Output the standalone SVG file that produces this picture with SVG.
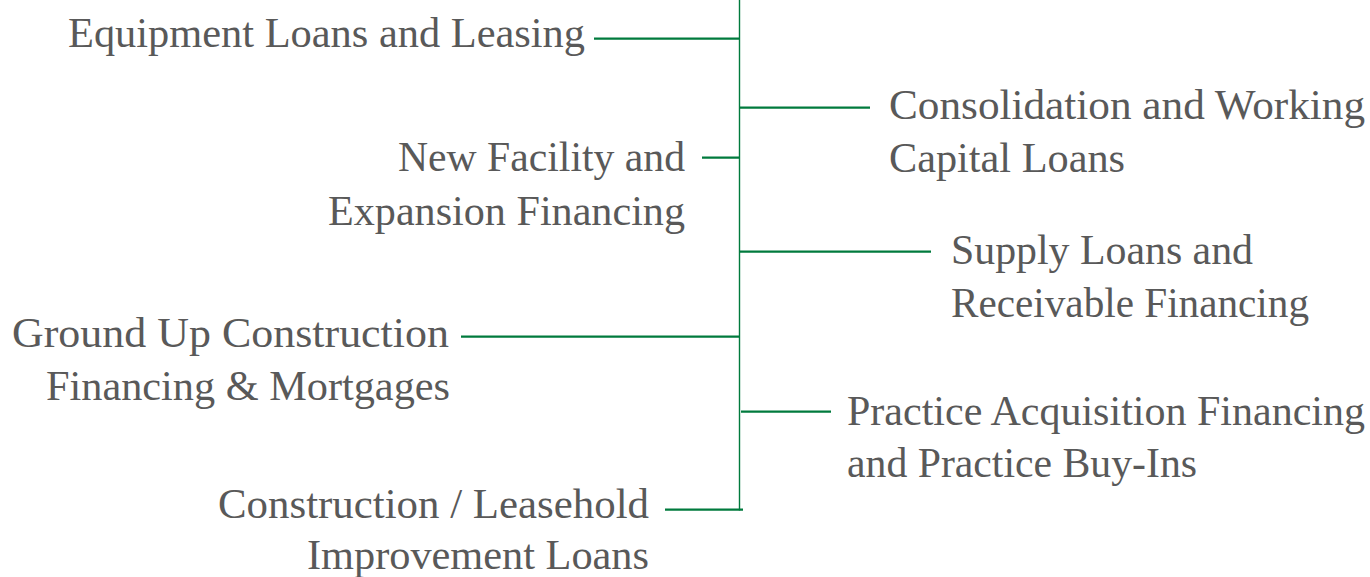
<svg xmlns="http://www.w3.org/2000/svg" width="1370" height="577" viewBox="0 0 1370 577">
<style>
.lbl{font-family:"Liberation Serif","Times New Roman",serif;font-size:42px;fill:#595959}
.l{text-anchor:end}
.r{text-anchor:start}
.br{stroke:#007a3d;stroke-width:2.2;fill:none}
.trunk{stroke:#007a3d;stroke-width:1.4;fill:none}
</style>
<rect width="1370" height="577" fill="#ffffff"/>
<g id="connectors">
<line class="trunk" x1="739.5" y1="0" x2="739.5" y2="510.5"/>
<line class="br" x1="594" y1="38.7" x2="739" y2="38.7"/>
<line class="br" x1="739" y1="107.7" x2="870" y2="107.7"/>
<line class="br" x1="702" y1="157.7" x2="740" y2="157.7"/>
<line class="br" x1="740" y1="251.7" x2="931" y2="251.7"/>
<line class="br" x1="461" y1="336.7" x2="740" y2="336.7"/>
<line class="br" x1="741" y1="411.7" x2="831" y2="411.7"/>
<line class="br" x1="665" y1="509.7" x2="743" y2="509.7"/>
</g>
<g id="node-equipment"><text class="lbl l" x="585" y="47" textLength="517" lengthAdjust="spacingAndGlyphs">Equipment Loans and Leasing</text></g>
<g id="node-consolidation"><text class="lbl r" x="889" y="119" textLength="476" lengthAdjust="spacingAndGlyphs">Consolidation and Working</text><text class="lbl r" x="889" y="172" textLength="236" lengthAdjust="spacingAndGlyphs">Capital Loans</text></g>
<g id="node-newfacility"><text class="lbl l" x="685" y="171" textLength="287" lengthAdjust="spacingAndGlyphs">New Facility and</text><text class="lbl l" x="685" y="225" textLength="357" lengthAdjust="spacingAndGlyphs">Expansion Financing</text></g>
<g id="node-supply"><text class="lbl r" x="951" y="264" textLength="302" lengthAdjust="spacingAndGlyphs">Supply Loans and</text><text class="lbl r" x="951" y="317" textLength="358" lengthAdjust="spacingAndGlyphs">Receivable Financing</text></g>
<g id="node-groundup"><text class="lbl l" x="449" y="347" textLength="437" lengthAdjust="spacingAndGlyphs">Ground Up Construction</text><text class="lbl l" x="450" y="400" textLength="404" lengthAdjust="spacingAndGlyphs">Financing &amp; Mortgages</text></g>
<g id="node-practice"><text class="lbl r" x="847" y="425" textLength="518" lengthAdjust="spacingAndGlyphs">Practice Acquisition Financing</text><text class="lbl r" x="847" y="477" textLength="350" lengthAdjust="spacingAndGlyphs">and Practice Buy-Ins</text></g>
<g id="node-construction"><text class="lbl l" x="649" y="518" textLength="431" lengthAdjust="spacingAndGlyphs">Construction / Leasehold</text><text class="lbl l" x="649" y="569" textLength="342" lengthAdjust="spacingAndGlyphs">Improvement Loans</text></g>
</svg>
